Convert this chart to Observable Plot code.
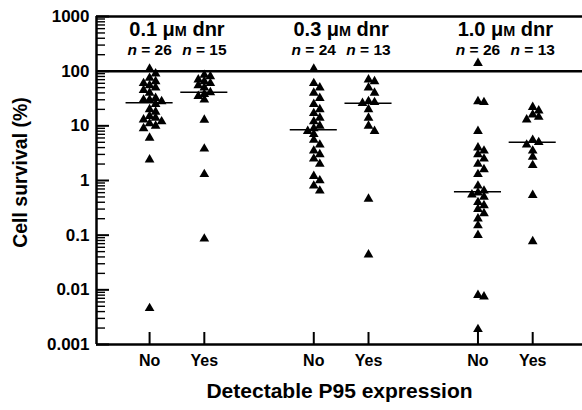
<!DOCTYPE html>
<html><head><meta charset="utf-8">
<script src="https://cdn.jsdelivr.net/npm/d3@7"></script>
<script src="https://cdn.jsdelivr.net/npm/@observablehq/plot@0.6"></script>
<style>
body{margin:0;background:#fff}
svg text{font-family:"Liberation Sans",Arial,Helvetica,sans-serif;font-weight:bold}
</style></head><body><div id="chart"></div>
<script>
// ---- data (cell survival %) ----
const doses = ["0.1", "0.3", "1.0"];
const expression = ["No", "Yes"];
const d01_no  = [110, 90, 75, 65, 60, 55, 50, 45, 40, 32, 30, 30, 28, 25, 20, 18, 15, 14, 13, 12, 11, 10, 9, 6, 2.4, 0.0046];
const d01_yes = [85, 80, 70, 65, 60, 55, 50, 41, 38, 35, 30, 12.8, 3.8, 1.3, 0.086];
const d03_no  = [110, 60, 50, 40, 32, 25, 20, 17, 14, 12, 10, 9, 8, 7, 5.5, 4.5, 3.5, 3, 2.5, 2, 1.2, 1, 0.8, 0.65];
const d03_yes = [70, 65, 50, 40, 28, 27, 26, 20, 14, 10, 8, 0.46, 0.044];
const d10_no  = [140, 28, 27, 8, 4, 3.5, 3, 2.5, 2, 1.6, 1.3, 0.8, 0.65, 0.6, 0.55, 0.5, 0.4, 0.35, 0.3, 0.25, 0.2, 0.15, 0.1, 0.008, 0.0075, 0.0019];
const d10_yes = [22, 19, 16, 14.5, 13, 5.5, 5, 4.5, 3.5, 2.7, 1.9, 0.54, 0.077];
const yTicks = [0.001, 0.01, 0.1, 1, 10, 100, 1000];
const yTickLabels = ["0.001", "0.01", "0.1", "1", "10", "100", "1000"];
const yLabel = "Cell survival (%)";
const xLabel = "Detectable P95 expression";

const series = [
  [d01_no, d01_yes], [d03_no, d03_yes], [d10_no, d10_yes]
];

// layout helpers: each dose group occupies slots (No, Yes, gap)
const groups = [];
series.forEach((pair, gi) => pair.forEach((vals, ei) => {
  groups.push({dose: doses[gi], exp: expression[ei], pos: gi * 3 + ei, values: vals, n: vals.length});
}));

// simple beeswarm so overlapping triangles spread sideways
const points = [];
groups.forEach(g => {
  const placed = [];
  const sorted = [...g.values].sort((a, b) => b - a);
  const step = 0.11, vTol = 0.1;
  sorted.forEach(v => {
    const ly = Math.log10(v);
    const cands = [0, step, -step, 2 * step, -2 * step, 3 * step, -3 * step];
    let off = 0;
    for (const c of cands) {
      if (!placed.some(p => Math.abs(p.ly - ly) < vTol && Math.abs(p.off - c) < step * 0.9)) { off = c; break; }
    }
    placed.push({ly, off});
    points.push({x: g.pos + off, y: v});
  });
});
const medians = groups.map(g => ({x1: g.pos - 0.43, x2: g.pos + 0.43, y: d3.median(g.values)}));
const headers = doses.map((d, gi) => ({x: gi * 3 + 0.5, dose: d}));
const nLabs = groups.map(g => ({x: g.pos, n: g.n}));

const minor = [];
for (let e = -3; e < 3; e++) for (let m = 2; m <= 9; m++) minor.push(m * Math.pow(10, e));

const W = 582, H = 410, ML = 96, MR = 0, MT = 16, MB = 66;
const xDomain = [-0.97, 7.91];
const yDomain = [0.001, 1000];
const xTickPos = groups.map(g => g.pos);

const chart = Plot.plot({
  width: W, height: H,
  marginLeft: ML, marginRight: MR, marginTop: MT, marginBottom: MB,
  x: {type: "linear", domain: xDomain, axis: null},
  y: {type: "log", domain: yDomain, axis: null},
  marks: [
    Plot.axisY(yTicks, {tickSize: 0, tickPadding: 7, fontSize: 17,
      tickFormat: d => yTickLabels[yTicks.indexOf(d)], label: null}),
    Plot.axisX(xTickPos, {tickSize: 0, tickPadding: 10, fontSize: 16,
      tickFormat: d => expression[d % 3], label: null}),
    Plot.ruleY([1000, 100, 0.001], {stroke: "black", strokeWidth: 2.5}),
    Plot.ruleX([xDomain[0]], {stroke: "black", strokeWidth: 2.5}),
    Plot.ruleY(medians, {x1: "x1", x2: "x2", y: "y", stroke: "black", strokeWidth: 1.5}),
    Plot.dot(points, {x: "x", y: "y", symbol: "triangle", r: 3.6, fill: "black", stroke: "none"}),
    Plot.text(headers, {x: "x", y: () => 1000, dy: 13, text: d => d.dose + " μM dnr", fontSize: 20, className: "hdr"}),
    Plot.text(nLabs, {x: "x", y: () => 1000, dy: 34, text: d => "n = " + d.n, fontSize: 15.5, className: "nlab"}),
    Plot.text([yLabel], {frameAnchor: "left", rotate: -90, dx: -76, dy: -8, textAnchor: "middle", fontSize: 19.5}),
    Plot.text([xLabel], {frameAnchor: "bottom", dy: 53, fontSize: 21}),
    // inward axis ticks: the y scale positions each tick; pixel lengths via dx/dy-free tickX/Y composites
    Plot.tickY(minor, {y: d => d, stroke: "black", strokeWidth: 1.4, insetLeft: 0, insetRight: W - ML - MR - 9}),
    Plot.tickY(yTicks, {y: d => d, stroke: "black", strokeWidth: 2, insetLeft: 0, insetRight: W - ML - MR - 13}),
    Plot.tickX(xTickPos, {x: d => d, stroke: "black", strokeWidth: 2, insetTop: H - MT - MB - 12, insetBottom: 0})
  ]
});
document.getElementById("chart").appendChild(chart);

// typographic touches: italic n, small-caps style M
d3.select(chart).selectAll(".nlab text").each(function () {
  const t = d3.select(this); const s = t.text(); t.text("");
  t.append("tspan").attr("font-style", "italic").text("n");
  t.append("tspan").text(s.slice(1));
});
d3.select(chart).selectAll(".hdr text").each(function () {
  const t = d3.select(this); const s = t.text(); const [num] = s.split(" "); t.text("");
  t.append("tspan").text(num + " μ");
  t.append("tspan").attr("font-size", "0.72em").text("M");
  t.append("tspan").text(" dnr");
});
</script></body></html>
